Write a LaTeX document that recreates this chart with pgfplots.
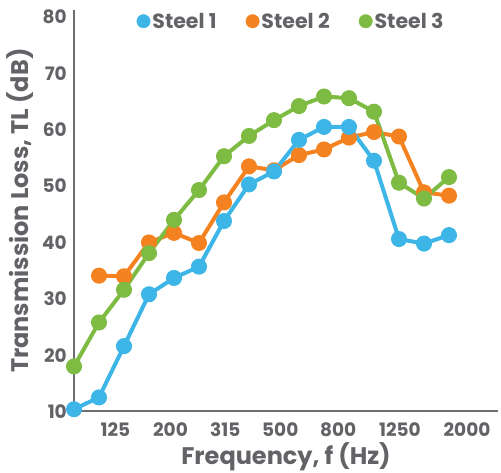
\documentclass[border=0pt]{standalone}
\usepackage{fontspec}
\setmainfont{Poppins}
\usepackage{pgfplots}
\pgfplotsset{compat=1.18}
\definecolor{cblue}{HTML}{3DB5E6}
\definecolor{corange}{HTML}{F58220}
\definecolor{cgreen}{HTML}{7DBB42}
\definecolor{cgrey}{HTML}{626366}
\definecolor{caxis}{HTML}{6D6E71}
\begin{document}
\begin{tikzpicture}
\begin{axis}[
  at={(0,0)}, anchor=south west,
  scale only axis, width=424pt, height=401.5pt,
  xmin=0, xmax=16.96, ymin=10, ymax=81.25,
  clip=false,
  axis lines*=left,
  axis line style={caxis, line width=2pt},
  major tick length=0pt,
  xtick={1.66,3.86,6.05,8.25,10.57,13.04,15.72},
  xticklabels={125,200,315,500,800,1250,2000},
  ytick={10,20,30,40,50,60,70,80},
  tick label style={font=\fontsize{18.5}{20}\selectfont\bfseries, text=cgrey},
  yticklabel style={/pgf/number format/assume math mode=true, anchor=east, inner sep=0pt, xshift=-7pt},
  xticklabel style={anchor=base, inner sep=0pt, yshift=-25pt},
  xlabel={Frequency, f (Hz)},
  ylabel={Transmission Loss, TL (dB)},
  label style={font=\fontsize{24}{27}\selectfont\bfseries, text=cgrey},
  xlabel style={at={(axis description cs:0.5,0)}, anchor=base, inner sep=0pt, yshift=-53.5pt},
  ylabel style={at={(axis description cs:0,0.5)}, anchor=center, inner sep=0pt, yshift=54pt},
  legend style={at={(axis description cs:0.512,0.972)}, anchor=center, draw=none, fill=none,
    font=\fontsize{20.5}{22}\selectfont\bfseries, text=cgrey, inner sep=0pt,
    /tikz/every even column/.append style={column sep=27pt}},
  legend columns=3,
  legend cell align=left,
  legend image code/.code={\fill[#1] (0pt,0pt) circle (6.7pt);},
]
\addlegendimage{cblue}
\addlegendentry{Steel 1}
\addlegendimage{corange}
\addlegendentry{Steel 2}
\addlegendimage{cgreen}
\addlegendentry{Steel 3}

\addplot[forget plot, corange, line width=4pt, mark=*, mark size=6pt, mark options={draw=none, fill=corange}] coordinates {
(1,34.1) (2,34.0) (3,40.0) (4,41.7) (5,39.9) (6,47.1) (7,53.5) (8,52.8) (9,55.5) (10,56.5) (11,58.6) (12,59.6) (13,58.8) (14,48.9) (15,48.3)};
\addplot[forget plot, cblue, line width=4pt, mark=*, mark size=6pt, mark options={draw=none, fill=cblue}] coordinates {
(0,10.4) (1,12.5) (2,21.6) (3,30.8) (4,33.7) (5,35.7) (6,43.8) (7,50.3) (8,52.6) (9,58.2) (10,60.5) (11,60.5) (12,54.5) (13,40.6) (14,39.8) (15,41.3)};
\addplot[forget plot, cgreen, line width=4pt, mark=*, mark size=6pt, mark options={draw=none, fill=cgreen}] coordinates {
(0,18.0) (1,25.8) (2,31.6) (3,38.1) (4,44.0) (5,49.3) (6,55.3) (7,58.9) (8,61.7) (9,64.2) (10,65.9) (11,65.6) (12,63.2) (13,50.6) (14,47.8) (15,51.6)};
\end{axis}
\pgfresetboundingbox
\path[use as bounding box] (-74pt,-61.5pt) rectangle (427pt,411.5pt);
\end{tikzpicture}
\end{document}
